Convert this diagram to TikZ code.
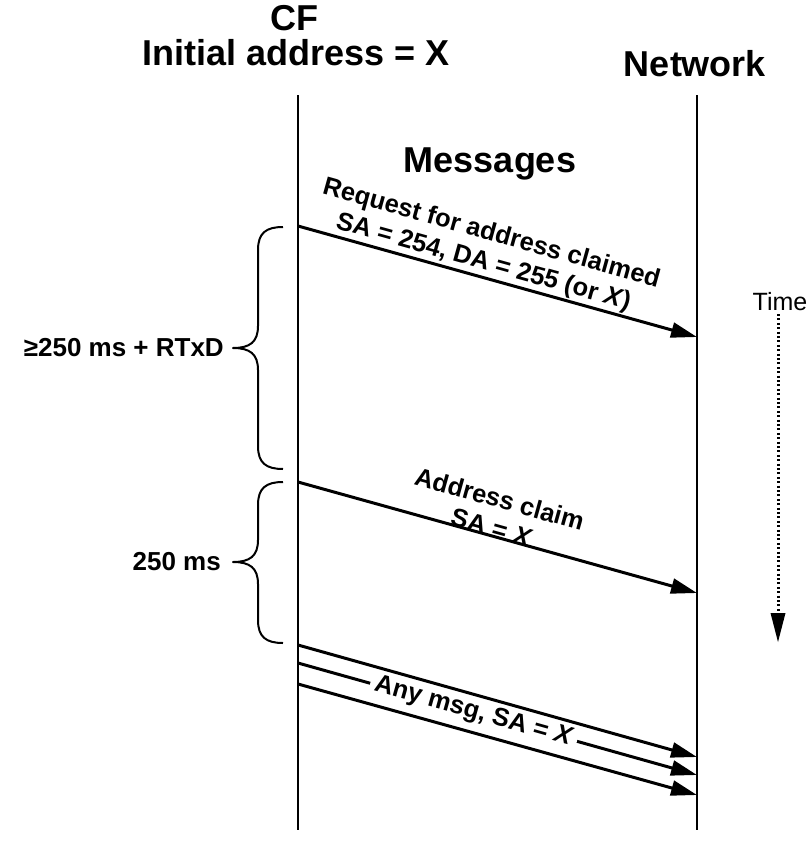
\documentclass[tikz,border=0pt]{standalone}
\usepackage{fontspec}
\setmainfont{Liberation Sans}
\usetikzlibrary{arrows.meta}
\begin{document}
\begin{tikzpicture}[x=1pt,y=-1pt,
  title/.style={font=\fontsize{36}{38}\selectfont\bfseries, inner sep=0pt},
  lbl/.style={font=\fontsize{25.5}{29.5}\selectfont\bfseries, align=center},
  side/.style={font=\fontsize{26}{28}\selectfont\bfseries, inner sep=0pt},
  lifeline/.style={line width=1.5pt},
  msg/.style={line width=3pt, -{Triangle[length=26pt,width=15pt]}},
  bracepath/.style={line width=2pt, line join=round}]
\useasboundingbox (0,0) rectangle (811,859);

% titles
\node[title, anchor=base] (cf) at (294,31) {CF};
\node[title, anchor=base] (init) at (296,66) {Initial address = X};
\node[title, anchor=base] (net) at (695,77) {Network};
\node[title, anchor=base] (msgs) at (490,172) {Messages};

% lifelines
\coordinate (lt) at (298,95);
\coordinate (lb) at (298,830);
\coordinate (rt) at (697,95);
\coordinate (rb) at (697,830);
\draw[lifeline] (lt) -- (lb);
\draw[lifeline] (rt) -- (rb);

% message endpoints
\coordinate (a1) at (298,226);  \coordinate (b1) at (697,337);
\coordinate (a2) at (298,482);  \coordinate (b2) at (697,593);
\coordinate (a3) at (298,645);  \coordinate (b3) at (697,757);
\coordinate (a4) at (298,663);  \coordinate (b4) at (697,775);
\coordinate (a5) at (298,684);  \coordinate (b5) at (697,795);

\draw[msg] (a1) -- node[lbl, sloped, above, pos=0.455, inner sep=1pt]
  {Request for address claimed\\SA = 254, DA = 255 (or \textit{X})} (b1);
\draw[msg] (a2) -- node[lbl, sloped, above, pos=0.48, inner sep=-2.5pt]
  {Address claim\\SA = \textit{X}} (b2);
\draw[msg] (a4) -- node[lbl, sloped, pos=0.44, fill=white, inner xsep=5pt, inner ysep=0pt]
  {Any msg, SA = \textit{X}} (b4);
\draw[msg] (a3) -- (b3);
\draw[msg] (a5) -- (b5);

% braces
\draw[bracepath] (283,227) .. controls (266,227) and (258,233) .. (258,250)
  -- (258,326) .. controls (258,342) and (250,348) .. (233,348)
  .. controls (250,348) and (258,354) .. (258,370)
  -- (258,446) .. controls (258,463) and (266,469) .. (283,469);
\draw[bracepath] (283,482) .. controls (266,482) and (258,488) .. (258,505)
  -- (258,540) .. controls (258,556) and (250,562) .. (233,562)
  .. controls (250,562) and (258,568) .. (258,584)
  -- (258,620) .. controls (258,637) and (266,643) .. (283,643);

\node[side, anchor=east] (d1) at (224,348) {≥250 ms + RTxD};
\node[side, anchor=east] (d2) at (221,562) {250 ms};

% time arrow
\node[font=\fontsize{25}{27}\selectfont, anchor=base] (time) at (780,310) {Time};
\coordinate (tend) at (778,642);
\draw[line width=3pt, dash pattern=on 2pt off 2.4pt,
  -{Triangle[length=29pt,width=15pt,line width=0pt]}] (778,314) -- (tend);
\end{tikzpicture}
\end{document}
